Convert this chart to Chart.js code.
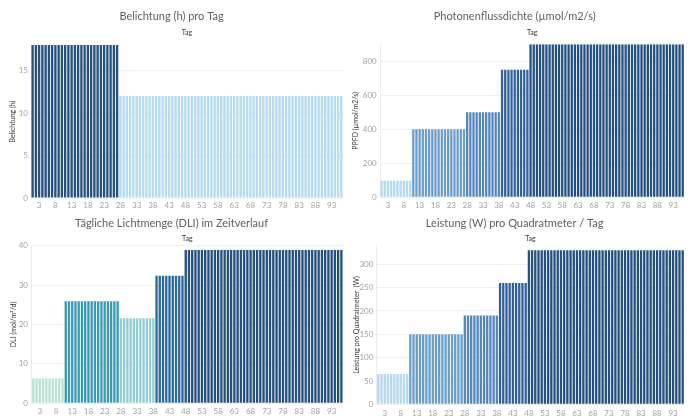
<!DOCTYPE html>
<html><head><meta charset="utf-8">
<script src="https://cdn.jsdelivr.net/npm/chart.js@4.4.0/dist/chart.umd.min.js"></script>
<style>
html,body{margin:0;padding:0;background:#fff;width:690px;height:419px;overflow:hidden}
.p{position:absolute}
</style></head><body>
<div class="p" style="left:0;top:0;width:345px;height:210px"><canvas id="c1" width="345" height="210" style="width:345px;height:210px"></canvas></div>
<div class="p" style="left:345px;top:0;width:345px;height:210px"><canvas id="c2" width="345" height="210" style="width:345px;height:210px"></canvas></div>
<div class="p" style="left:0;top:210px;width:345px;height:209px"><canvas id="c3" width="345" height="209" style="width:345px;height:209px"></canvas></div>
<div class="p" style="left:345px;top:210px;width:345px;height:209px"><canvas id="c4" width="345" height="209" style="width:345px;height:209px"></canvas></div>
<script>
// ---- Data ----
const days = [
  1,2,3,4,5,6,7,8,9,10,11,12,13,14,15,16,17,18,19,20,
  21,22,23,24,25,26,27,28,29,30,31,32,33,34,35,36,37,38,39,40,
  41,42,43,44,45,46,47,48,49,50,51,52,53,54,55,56,57,58,59,60,
  61,62,63,64,65,66,67,68,69,70,71,72,73,74,75,76,77,78,79,80,
  81,82,83,84,85,86,87,88,89,90,91,92,93,94,95,96
];
const xTickDays = [3,8,13,18,23,28,33,38,43,48,53,58,63,68,73,78,83,88,93];

const belichtung = [
  18,18,18,18,18,18,18,18,18,18,18,18,18,18,18,18,18,18,18,18,
  18,18,18,18,18,18,18,12,12,12,12,12,12,12,12,12,12,12,12,12,
  12,12,12,12,12,12,12,12,12,12,12,12,12,12,12,12,12,12,12,12,
  12,12,12,12,12,12,12,12,12,12,12,12,12,12,12,12,12,12,12,12,
  12,12,12,12,12,12,12,12,12,12,12,12,12,12,12,12
];
const ppfd = [
  97,97,97,97,97,97,97,97,97,97,400,400,400,400,400,400,400,400,400,400,
  400,400,400,400,400,400,400,500,500,500,500,500,500,500,500,500,500,500,750,750,
  750,750,750,750,750,750,750,900,900,900,900,900,900,900,900,900,900,900,900,900,
  900,900,900,900,900,900,900,900,900,900,900,900,900,900,900,900,900,900,900,900,
  900,900,900,900,900,900,900,900,900,900,900,900,900,900,900,900
];
const dli = [
  6.3,6.3,6.3,6.3,6.3,6.3,6.3,6.3,6.3,6.3,25.9,25.9,25.9,25.9,25.9,25.9,25.9,25.9,25.9,25.9,
  25.9,25.9,25.9,25.9,25.9,25.9,25.9,21.6,21.6,21.6,21.6,21.6,21.6,21.6,21.6,21.6,21.6,21.6,32.4,32.4,
  32.4,32.4,32.4,32.4,32.4,32.4,32.4,38.9,38.9,38.9,38.9,38.9,38.9,38.9,38.9,38.9,38.9,38.9,38.9,38.9,
  38.9,38.9,38.9,38.9,38.9,38.9,38.9,38.9,38.9,38.9,38.9,38.9,38.9,38.9,38.9,38.9,38.9,38.9,38.9,38.9,
  38.9,38.9,38.9,38.9,38.9,38.9,38.9,38.9,38.9,38.9,38.9,38.9,38.9,38.9,38.9,38.9
];
const leistung = [
  65,65,65,65,65,65,65,65,65,65,150,150,150,150,150,150,150,150,150,150,
  150,150,150,150,150,150,150,190,190,190,190,190,190,190,190,190,190,190,260,260,
  260,260,260,260,260,260,260,330,330,330,330,330,330,330,330,330,330,330,330,330,
  330,330,330,330,330,330,330,330,330,330,330,330,330,330,330,330,330,330,330,330,
  330,330,330,330,330,330,330,330,330,330,330,330,330,330,330,330
];

// ---- Styles ----
const FONT = 'Lato, "Open Sans", sans-serif';
const TITLE_SIZE = 11;
const colorMaps = {
  c1: {18:'#24527f', 12:'#b6daf1'},
  c2: {97:'#b5d8f0', 400:'#6a9dcb', 500:'#5487bd', 750:'#30619b', 900:'#23507e'},
  c3: {6.3:'#b9e2d6', 25.9:'#3a9ab4', 21.6:'#95cdd4', 32.4:'#2c6a9c', 38.9:'#24507f'},
  c4: {65:'#b5d8f0', 150:'#6a9dcb', 190:'#5487bd', 260:'#30619b', 330:'#23507e'}
};

function makePanel(id, cfg) {
  const cmap = colorMaps[id];
  new Chart(document.getElementById(id), {
    type: 'bar',
    data: {
      labels: days,
      datasets: [{
        data: cfg.data,
        backgroundColor: cfg.data.map(v => cmap[v]),
        borderWidth: 0,
        barPercentage: 0.72,
        categoryPercentage: 1.0,
        xAxisID: 'x',
        yAxisID: 'y'
      }]
    },
    options: {
      responsive: false,
      animation: false,
      events: [],
      layout: { padding: { left: 0, right: cfg.rightPad, top: 0, bottom: 0 } },
      plugins: {
        legend: { display: false },
        tooltip: { enabled: false },
        title: {
          display: true,
          text: cfg.title,
          color: '#606060',
          font: { family: FONT, size: TITLE_SIZE, weight: 'normal', lineHeight: 1.2 },
          padding: { top: cfg.titleTop, bottom: 0 }
        }
      },
      scales: {
        x: {
          type: 'category',
          position: 'bottom',
          grid: { display: false, drawTicks: false },
          border: { display: false },
          ticks: {
            autoSkip: false,
            maxRotation: 0,
            minRotation: 0,
            padding: cfg.xTickPad,
            color: '#a3a3a3',
            font: { family: FONT, size: 8 },
            callback: function(val, idx) {
              const d = days[idx];
              return xTickDays.includes(d) ? String(d) : '';
            }
          },
          afterFit: s => { s.height = cfg.xHeight; }
        },
        x2: {
          type: 'category',
          position: 'top',
          grid: { display: false, drawTicks: false },
          border: { display: false },
          ticks: { display: false },
          title: {
            display: true,
            text: 'Tag',
            color: '#333333',
            font: { family: FONT, size: 7, lineHeight: 1.2 },
            padding: { top: cfg.tagPad, bottom: 0 }
          },
          afterFit: s => { s.height = cfg.x2Height; }
        },
        y: {
          min: 0,
          max: cfg.max,
          grid: { color: '#f0f0f0', drawTicks: false, lineWidth: 1 },
          border: { display: true, color: '#ececec' },
          ticks: {
            stepSize: cfg.step,
            includeBounds: false,
            padding: cfg.yTickPad,
            color: '#a3a3a3',
            font: { family: FONT, size: 8 }
          },
          title: {
            display: true,
            text: cfg.yTitle,
            color: '#333333',
            font: { family: FONT, size: 7, lineHeight: 1.2 },
            padding: { top: cfg.yTitlePad, bottom: 0 }
          },
          afterFit: s => { s.width = cfg.yWidth; }
        }
      }
    }
  });
}

makePanel('c1', {
  title: 'Belichtung (h) pro Tag', yTitle: 'Belichtung (h)', data: belichtung,
  max: 18, step: 5, titleTop: 10.1, x2Height: 21.7, tagPad: 4.8,
  xHeight: 12, xTickPad: 3, yWidth: 31, yTitlePad: 9, yTickPad: 3, rightPad: 2
});
makePanel('c2', {
  title: 'Photonenflussdichte (µmol/m2/s)', yTitle: 'PPFD (µmol/m2/s)', data: ppfd,
  max: 900, step: 200, titleTop: 10.1, x2Height: 21, tagPad: 4.8,
  xHeight: 12.7, xTickPad: 3, yWidth: 35, yTitlePad: 6.8, yTickPad: 3.3, rightPad: 5.7
});
makePanel('c3', {
  title: 'Tägliche Lichtmenge (DLI) im Zeitverlauf', yTitle: 'DLI (mol/m²/d)', data: dli,
  max: 40, step: 10, titleTop: 6.4, x2Height: 16.1, tagPad: 5.2,
  xHeight: 15.7, xTickPad: 3.6, yWidth: 31.7, yTitlePad: 9.1, yTickPad: 3.7, rightPad: 2
});
makePanel('c4', {
  title: 'Leistung (W) pro Quadratmeter / Tag', yTitle: 'Leistung pro Quadratmeter  (W)', data: leistung,
  max: 340, step: 50, titleTop: 6.7, x2Height: 15.7, tagPad: 4.9,
  xHeight: 14.7, xTickPad: 4.2, yWidth: 31.7, yTitlePad: 7.5, yTickPad: 3.4, rightPad: 5.7
});
</script>
</body></html>
